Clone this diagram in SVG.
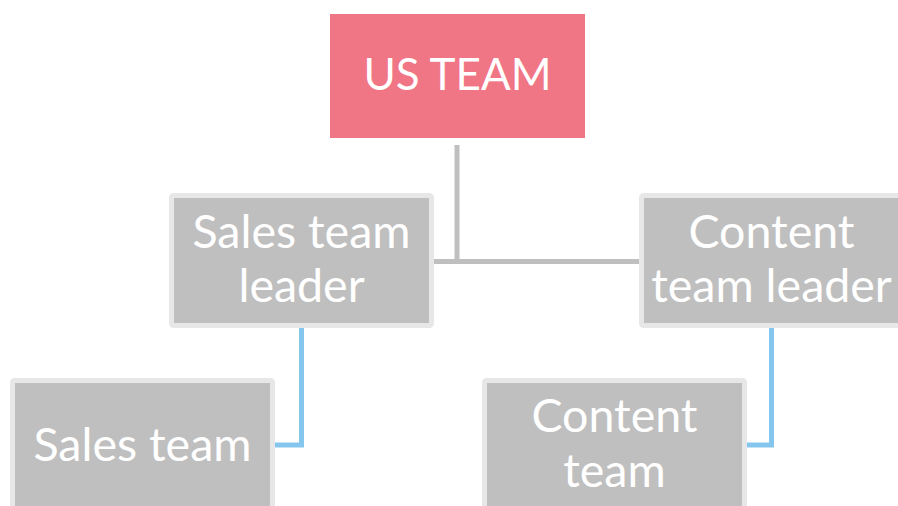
<svg xmlns="http://www.w3.org/2000/svg" width="898" height="506" viewBox="0 0 898 506">
  <style>
    .lbl { font-family: Lato, "Open Sans", sans-serif; font-size: 46.5px; fill: #ffffff; text-anchor: middle; }
    .head { font-size: 44px; }
    .card { fill: #bfbfbf; stroke: #e7e7e7; stroke-width: 5; }
    .trunk { fill: none; stroke: #bfbfbf; stroke-width: 5; }
    .branch { fill: none; stroke: #85c6ee; stroke-width: 5; }
  </style>
  <rect width="898" height="506" fill="#ffffff"/>

  <g id="connectors">
    <path class="trunk" d="M457 145 V261.5 M433 261.5 H641"/>
    <path class="branch" d="M301.5 328 V445 H274"/>
    <path class="branch" d="M771.5 328 V445 H746"/>
  </g>

  <g id="us-team">
    <rect x="330" y="14" width="255" height="124" fill="#f07585"/>
    <text class="lbl head" x="457.5" y="90">US TEAM</text>
  </g>

  <g id="sales-leader">
    <rect class="card" x="171.5" y="195.5" width="260" height="130" rx="2"/>
    <text class="lbl" x="301.5" y="248">Sales team</text>
    <text class="lbl" x="301.5" y="302">leader</text>
  </g>

  <g id="content-leader">
    <rect class="card" x="641.5" y="195.5" width="260" height="130" rx="2"/>
    <text class="lbl" x="771.5" y="248">Content</text>
    <text class="lbl" x="771.5" y="302">team leader</text>
  </g>

  <g id="sales-team">
    <rect class="card" x="12.5" y="380.5" width="260" height="135" rx="2"/>
    <text class="lbl" x="142.5" y="461">Sales team</text>
  </g>

  <g id="content-team">
    <rect class="card" x="484.5" y="380.5" width="260" height="135" rx="2"/>
    <text class="lbl" x="614.5" y="432">Content</text>
    <text class="lbl" x="614.5" y="487">team</text>
  </g>
</svg>
